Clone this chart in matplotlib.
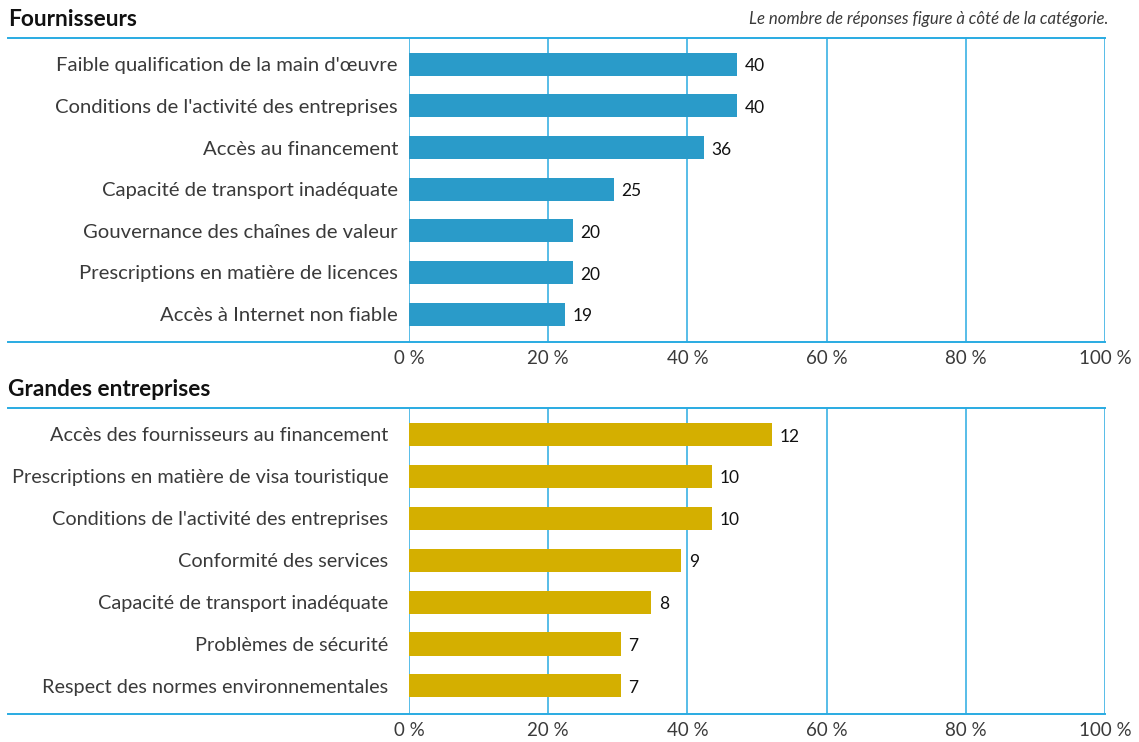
import matplotlib.pyplot as plt
from matplotlib.lines import Line2D

plt.rcParams['font.family'] = ['Lato', 'DejaVu Sans']

fournisseurs_labels = ["Faible qualification de la main d'œuvre",
                       "Conditions de l'activité des entreprises",
                       "Accès au financement",
                       "Capacité de transport inadéquate",
                       "Gouvernance des chaînes de valeur",
                       "Prescriptions en matière de licences",
                       "Accès à Internet non fiable"]
fournisseurs_pct = [47.1, 47.1, 42.4, 29.4, 23.5, 23.5, 22.4]
fournisseurs_n = [40, 40, 36, 25, 20, 20, 19]

entreprises_labels = ["Accès des fournisseurs au financement",
                      "Prescriptions en matière de visa touristique",
                      "Conditions de l'activité des entreprises",
                      "Conformité des services",
                      "Capacité de transport inadéquate",
                      "Problèmes de sécurité",
                      "Respect des normes environnementales"]
entreprises_pct = [52.2, 43.5, 43.5, 39.1, 34.8, 30.4, 30.4]
entreprises_n = [12, 10, 10, 9, 8, 7, 7]

xticks = [0, 20, 40, 60, 80, 100]
line_col = "#29ABE2"
text_col = "#3a3a3a"

W, H = 1139, 742
fig = plt.figure(figsize=(W / 100, H / 100), dpi=100)


def panel(top, bottom, title, labels, pct, counts, color, lab_pad, lab_size):
    left, right = 409, 1105
    ax = fig.add_axes([left / W, 1 - bottom / H, (right - left) / W, (bottom - top) / H])
    y = list(range(len(labels)))
    ax.barh(y, pct, height=0.55, color=color, zorder=3)
    for yi, p, c in zip(y, pct, counts):
        ax.text(p + 1.1, yi + 0.05, str(c), va="center", ha="left", fontsize=12.5, color="#111111")
    ax.set_xlim(0, 100)
    ax.set_ylim(6.67, -0.63)
    for s in ax.spines.values():
        s.set_visible(False)
    for t in xticks:
        ax.axvline(t, color=line_col, lw=1.1, zorder=1)
    ext = (8 - left) / (right - left)
    for yy in (0, 1):
        ax.add_line(Line2D([ext, 1], [yy, yy], transform=ax.transAxes, color=line_col,
                           lw=1.4, clip_on=False))
    ax.set_xticks(xticks)
    ax.set_xticklabels([f"{t} %" for t in xticks], fontsize=13.5, color=text_col)
    ax.tick_params(axis="x", length=0, pad=6)
    ax.set_yticks(y)
    ax.set_yticklabels(labels, fontsize=lab_size, color=text_col)
    ax.tick_params(axis="y", length=0, pad=lab_pad)
    fig.text(8 / W, 1 - (top - 19) / H, title, fontsize=16.3, fontweight="bold",
             va="center", ha="left", color="#111111")
    return ax


panel(38, 342, "Fournisseurs", fournisseurs_labels, fournisseurs_pct, fournisseurs_n,
      "#2A9BC9", 8, 14.6)
panel(408, 714, "Grandes entreprises", entreprises_labels, entreprises_pct, entreprises_n,
      "#D4AF00", 15, 14.3)

fig.text(1108 / W, 1 - 19 / H, "Le nombre de réponses figure à côté de la catégorie.",
         fontsize=12.1, style="italic", ha="right", va="center", color=text_col)

fig.savefig("out.png", dpi=100)
